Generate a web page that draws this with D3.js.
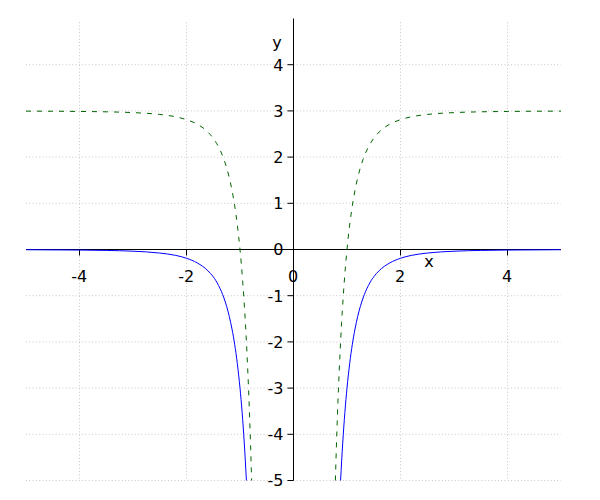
<!DOCTYPE html>
<html><head><meta charset="utf-8">
<script src="https://cdn.jsdelivr.net/npm/d3@7"></script>
<style>body{margin:0;background:#fff}svg{display:block}text{font-family:"DejaVu Sans",sans-serif;font-size:16px;fill:#000}</style>
</head><body><svg id="c" width="600" height="500"></svg>
<script>
const xTicks = [-4, -2, 0, 2, 4];
const yTicks = [-5, -4, -3, -2, -1, 0, 1, 2, 3, 4];
const xGrid = [-4, -2, 0, 2, 4];
const yGrid = [-5, -4, -3, -2, -1, 0, 1, 2, 3, 4];

// blue solid curve, left and right branches
const blueLeftX = [-5, -4, -3.5, -3, -2.5, -2.2, -2, -1.8, -1.6, -1.5, -1.4, -1.3, -1.2, -1.15, -1.1, -1.05, -1.0, -0.96, -0.92, -0.88];
const blueLeftY = [-0.005, -0.012, -0.02, -0.037, -0.077, -0.128, -0.19, -0.29, -0.46, -0.59, -0.78, -1.05, -1.45, -1.72, -2.05, -2.47, -3.0, -3.53, -4.19, -5.0];
const blueRightX = [0.88, 0.92, 0.96, 1.0, 1.05, 1.1, 1.15, 1.2, 1.3, 1.4, 1.5, 1.6, 1.8, 2, 2.2, 2.5, 3, 3.5, 4, 5];
const blueRightY = [-5.0, -4.19, -3.53, -3.0, -2.47, -2.05, -1.72, -1.45, -1.05, -0.78, -0.59, -0.46, -0.29, -0.19, -0.128, -0.077, -0.037, -0.02, -0.012, -0.005];

// green dashed curve
const greenLeftX = [-5, -4, -3.5, -3, -2.5, -2.2, -2, -1.8, -1.6, -1.5, -1.4, -1.3, -1.2, -1.15, -1.1, -1.05, -1.0, -0.95, -0.9, -0.87, -0.84, -0.82, -0.8, -0.783];
const greenLeftY = [2.995, 2.988, 2.98, 2.963, 2.923, 2.872, 2.81, 2.714, 2.542, 2.407, 2.219, 1.95, 1.553, 1.285, 0.951, 0.532, 0.0, -0.683, -1.572, -2.237, -3.025, -3.635, -4.324, -5.0];
const greenRightX = [0.783, 0.8, 0.82, 0.84, 0.87, 0.9, 0.95, 1.0, 1.05, 1.1, 1.15, 1.2, 1.3, 1.4, 1.5, 1.6, 1.8, 2, 2.2, 2.5, 3, 3.5, 4, 5];
const greenRightY = [-5.0, -4.324, -3.635, -3.025, -2.237, -1.572, -0.683, 0.0, 0.532, 0.951, 1.285, 1.553, 1.95, 2.219, 2.407, 2.542, 2.714, 2.81, 2.872, 2.923, 2.963, 2.98, 2.988, 2.995];

const svg = d3.select('#c');
const x = d3.scaleLinear().domain([-5, 5]).range([26, 561]);
const y = d3.scaleLinear().domain([-5, 5]).range([480.5, 18.5]);

// grid
const g = svg.append('g').attr('stroke', '#c8c8c8').attr('stroke-width', 1).attr('stroke-dasharray', '1,2.3');
g.selectAll('.gx').data(xGrid).join('line')
  .attr('x1', d => x(d)).attr('x2', d => x(d))
  .attr('y1', y(4.92)).attr('y2', y(-5));
g.selectAll('.gy').data(yGrid).join('line')
  .attr('y1', d => y(d)).attr('y2', d => y(d))
  .attr('x1', x(-5)).attr('x2', x(5));

// axes through origin
const x0 = x(0), y0 = y(0);
svg.append('line').attr('x1', x(-5)).attr('x2', x(5)).attr('y1', y0).attr('y2', y0).attr('stroke', '#000');
svg.append('line').attr('x1', x0).attr('x2', x0).attr('y1', y(5)).attr('y2', y(-5)).attr('stroke', '#000');

// x ticks
svg.selectAll('.xt').data(xTicks.filter(d => d !== 0)).join('line')
  .attr('x1', d => x(d)).attr('x2', d => x(d))
  .attr('y1', y0).attr('y2', y0 + 6).attr('stroke', '#000');
svg.selectAll('.xl').data(xTicks).join('text')
  .attr('x', d => x(d) - 0.3).attr('y', 281.5).attr('text-anchor', 'middle').text(d => d);
// y ticks
svg.selectAll('.yt').data(yTicks).join('line')
  .attr('y1', d => y(d)).attr('y2', d => y(d))
  .attr('x1', x0 - 6).attr('x2', x0).attr('stroke', '#000');
svg.selectAll('.yl').data(yTicks).join('text')
  .attr('x', 283.5).attr('y', d => y(d) + 5.8).attr('text-anchor', 'end').text(d => d);

// axis labels
svg.append('text').attr('x', 277).attr('y', 48).attr('text-anchor', 'middle').text('y');
svg.append('text').attr('x', 429).attr('y', 267).attr('text-anchor', 'middle').text('x');

const line = d3.line().x(d => x(d[0])).y(d => y(d[1])).curve(d3.curveMonotoneX);
function draw(xs, ys, color, dash) {
  const p = svg.append('path').datum(d3.zip(xs, ys)).attr('d', line)
    .attr('fill', 'none').attr('stroke', color).attr('stroke-width', 1);
  if (dash) p.attr('stroke-dasharray', dash);
}
draw(greenLeftX, greenLeftY, '#006400', '5,6');
draw(greenRightX, greenRightY, '#006400', '5,6');
draw(blueLeftX, blueLeftY, '#0000ff');
draw(blueRightX, blueRightY, '#0000ff');
</script></body></html>
